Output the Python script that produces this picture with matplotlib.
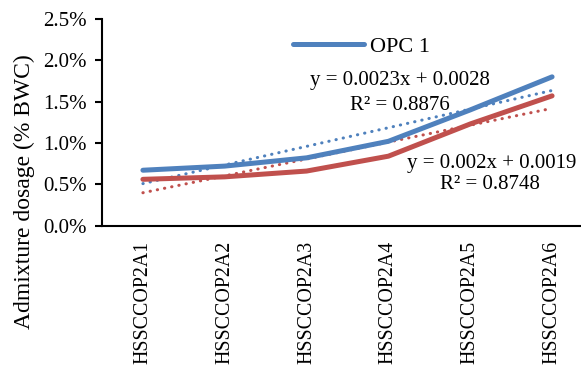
import numpy as np
import matplotlib
matplotlib.use("Agg")
import matplotlib.pyplot as plt
from matplotlib.ticker import PercentFormatter, MultipleLocator

categories = ["HSSCCOP2A1", "HSSCCOP2A2", "HSSCCOP2A3", "HSSCCOP2A4", "HSSCCOP2A5", "HSSCCOP2A6"]
opc1 = [0.0067, 0.0072, 0.0082, 0.0102, 0.0140, 0.0180]
opc2 = [0.0056, 0.0059, 0.0066, 0.0084, 0.0123, 0.0157]
eq1 = ["y = 0.0023x + 0.0028", "R² = 0.8876"]
eq2 = ["y = 0.002x + 0.0019", "R² = 0.8748"]

blue = "#4F81BD"
red = "#C0504D"
plt.rcParams['font.family'] = ['Liberation Serif', 'DejaVu Serif']

fig = plt.figure(figsize=(5.81, 3.69), dpi=100)
ax = fig.add_axes([102/581, 1-225.6/369, 491/581, 206.6/369])

idx = np.arange(len(categories))
xr = np.arange(1, len(categories)+1)

l1, = ax.plot(idx, opc1, color=blue, lw=3.6, solid_capstyle='round', label="OPC 1", zorder=3)
l2, = ax.plot(idx, opc2, color=red, lw=3.6, solid_capstyle='round', label="OPC 2", zorder=3)

for ser, col in ((opc1, blue), (opc2, red)):
    m, b = np.polyfit(xr, ser, 1)
    ax.plot(idx, m*xr + b, color=col, lw=2.2, linestyle=(0, (0.1, 2.3)),
            dash_capstyle='round', zorder=2)

ax.set_xlim(-0.5, len(categories)-0.5)
ax.set_ylim(0, 0.025)
ax.yaxis.set_major_locator(MultipleLocator(0.005))
ax.yaxis.set_major_formatter(PercentFormatter(xmax=1, decimals=1))
ax.set_xticks(idx)
ax.set_xticklabels(categories, rotation=90, fontsize=14.3)
ax.tick_params(axis='x', length=0, pad=11)
ax.tick_params(axis='y', length=5, width=1.5, pad=6, labelsize=15, direction='out')
for s in ('top', 'right'):
    ax.spines[s].set_visible(False)
for s in ('left', 'bottom'):
    ax.spines[s].set_linewidth(1.5)

ax.set_ylabel("Admixture dosage (% BWC)", fontsize=17)
ax.yaxis.set_label_coords(-0.137, 0.165)

fig.legend(handles=[l1], loc='center left', bbox_to_anchor=(293/581, 1-47/369),
           frameon=False, fontsize=16, handlelength=3.2, handletextpad=0.25,
           borderpad=0, borderaxespad=0)

fig.text(400/581, 1-81/369, eq1[0], ha='center', va='center', fontsize=15)
fig.text(400/581, 1-105/369, eq1[1], ha='center', va='center', fontsize=15)
fig.text(492/581, 1-163/369, eq2[0], ha='center', va='center', fontsize=15)
fig.text(490/581, 1-185/369, eq2[1], ha='center', va='center', fontsize=15)

fig.savefig("out.png", dpi=100)
